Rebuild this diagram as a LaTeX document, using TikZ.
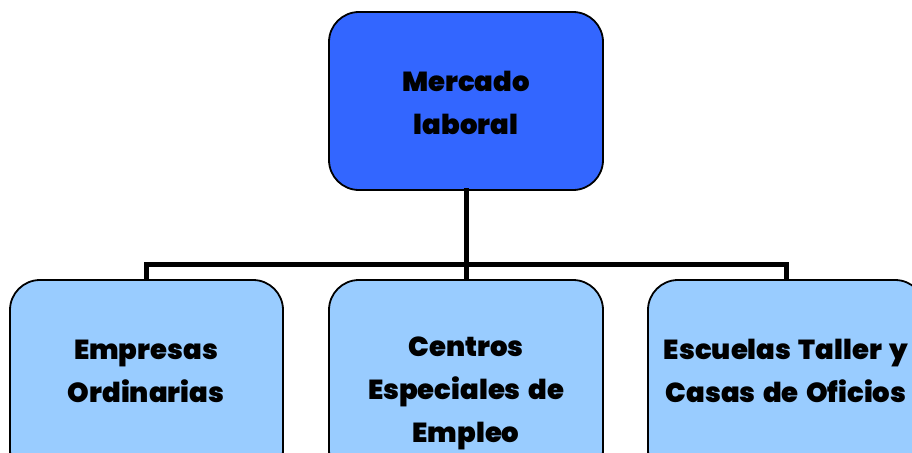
\documentclass[tikz,border=0pt]{standalone}
\usepackage{fontspec}
\setmainfont{Poppins}
\newfontfamily\heavy{Poppins Black}[WordSpace=1.6]
\definecolor{topblue}{HTML}{3366FF}
\definecolor{lightblue}{HTML}{99CCFF}
\begin{document}
\begin{tikzpicture}[x=1pt,y=-1pt,
  box/.style={draw=black,line width=1.8pt,rounded corners=30pt},
  lbl/.style={align=center,font=\heavy\fontsize{27.5}{43}\selectfont,text=black},
  bus/.style={line width=5pt,line cap=rect}]
\useasboundingbox (0,0) rectangle (912,452);
\draw[box,fill=topblue] (329,12) rectangle (603,190);
\draw[box,fill=lightblue] (10,280) rectangle (283,480);
\draw[box,fill=lightblue] (329,280) rectangle (603,480);
\draw[box,fill=lightblue] (648,280) rectangle (925,480);
\node[lbl] (top) at (466,103) {Mercado\\laboral};
\node[lbl] (l) at (146,371) {Empresas\\Ordinarias};
\node[lbl] (m) at (466,393) {Centros\\Especiales de\\Empleo};
\node[lbl] (r) at (786,371) {Escuelas Taller y\\Casas de Oficios};
\coordinate (tb) at (466,190);
\coordinate (j) at (466,264);
\coordinate (jl) at (146,264);
\coordinate (jr) at (786,264);
\coordinate (lb) at (146,280);
\coordinate (mb) at (466,280);
\coordinate (rb) at (786,280);
\draw[bus] (tb) -- (j);
\draw[line width=5pt] (lb) -- (jl) -- (jr) -- (rb);
\draw[line width=5pt] (j) -- (mb);
\end{tikzpicture}
\end{document}
